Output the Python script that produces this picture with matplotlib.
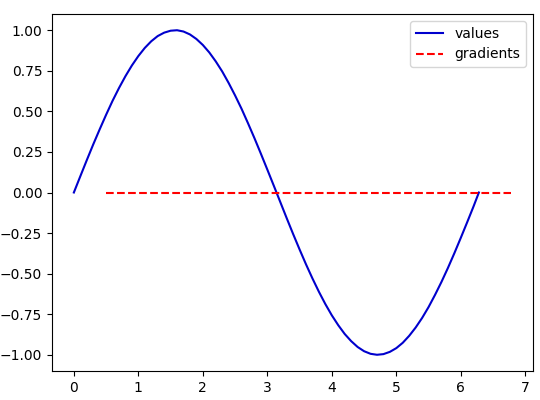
import matplotlib
matplotlib.use('Agg')
import matplotlib.pyplot as plt

# sine-like curve values
x_values = [0.0, 0.1, 0.2, 0.3, 0.4, 0.5, 0.6, 0.7, 0.8, 0.9,
            1.0, 1.1, 1.2, 1.3, 1.4, 1.5, 1.6, 1.7, 1.8, 1.9,
            2.0, 2.1, 2.2, 2.3, 2.4, 2.5, 2.6, 2.7, 2.8, 2.9,
            3.0, 3.1, 3.2, 3.3, 3.4, 3.5, 3.6, 3.7, 3.8, 3.9,
            4.0, 4.1, 4.2, 4.3, 4.4, 4.5, 4.6, 4.7, 4.8, 4.9,
            5.0, 5.1, 5.2, 5.3, 5.4, 5.5, 5.6, 5.7, 5.8, 5.9,
            6.0, 6.1, 6.2, 6.28]
y_values = [0.000, 0.100, 0.199, 0.296, 0.389, 0.479, 0.565, 0.644, 0.717, 0.783,
            0.841, 0.891, 0.932, 0.964, 0.985, 0.997, 1.000, 0.992, 0.974, 0.946,
            0.909, 0.863, 0.808, 0.746, 0.675, 0.598, 0.516, 0.427, 0.335, 0.239,
            0.141, 0.042, -0.058, -0.158, -0.256, -0.351, -0.443, -0.530, -0.612, -0.688,
            -0.757, -0.818, -0.872, -0.916, -0.952, -0.978, -0.994, -1.000, -0.996, -0.982,
            -0.959, -0.926, -0.883, -0.832, -0.773, -0.706, -0.631, -0.551, -0.465, -0.374,
            -0.279, -0.182, -0.083, 0.000]

# gradients (flat at zero), shifted by half a unit
grad_x = [0.5, 6.78]
grad_y = [0.0, 0.0]

fig = plt.figure(figsize=(5.4, 4.0), dpi=100)
ax = fig.add_axes([0.0963, 0.0725, 0.8907, 0.8925])
ax.plot(x_values, y_values, color='mediumblue', label='values')
ax.plot(grad_x, grad_y, 'r--', label='gradients')
ax.legend(loc='upper right')
fig.savefig('out.png', dpi=100)
